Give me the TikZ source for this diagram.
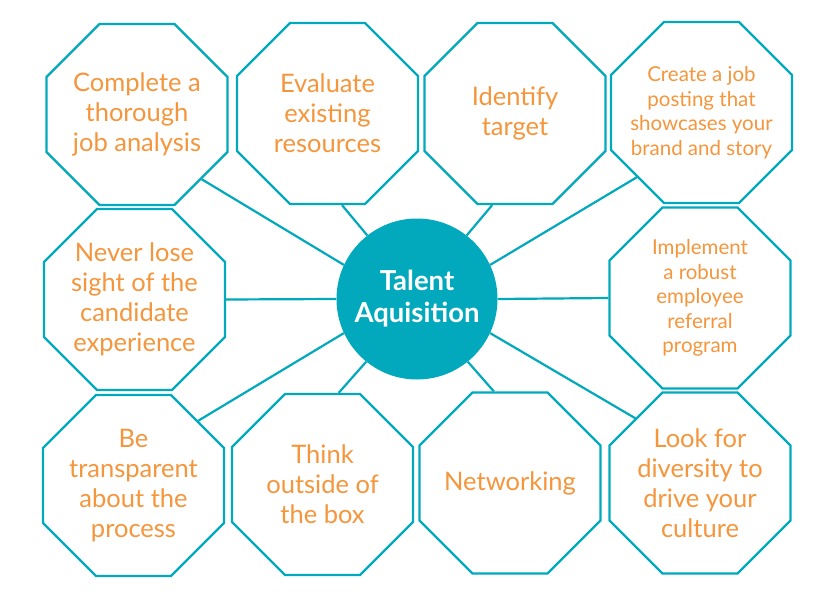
\documentclass[tikz,border=0pt]{standalone}
\usepackage{fontspec}
\setmainfont{Lato}
\usepackage{xcolor}
\usetikzlibrary{shapes.geometric}
\definecolor{ringteal}{HTML}{02A9BD}
\definecolor{stepgold}{HTML}{F5963C}
\tikzset{
  octa/.style   = {regular polygon, regular polygon sides=8, minimum size=196pt, inner sep=-20pt,
                   draw=ringteal, fill=white, line width=2.2pt, align=center, text=stepgold,
                   font=\fontsize{25.5}{30}\selectfont},
  octs/.style   = {octa, font=\fontsize{20.5}{24.5}\selectfont},
  hub/.style    = {circle, fill=ringteal, minimum size=161pt, inner sep=0pt, align=center,
                   text=white, font=\bfseries\fontsize{27.5}{32}\selectfont},
  link/.style   = {draw=ringteal, line width=2.2pt},
}

\begin{document}
\begin{tikzpicture}[x=1pt, y=-1pt]
  \useasboundingbox (0,0) rectangle (836,611);
  \node[hub] (talent) at (417,299) {Talent\\Aquisition};
  % top row
  \node[octa] (cjob)  at (137,114.5)   {Complete a\\thorough\\job analysis};
  \node[octa] (eval)  at (327.5,113.5) {Evaluate\\existing\\resources};
  \node[octa] (ident) at (515,113.5)   {Identify\\target};
  \node[octs] (post)  at (701.5,112.5) {Create a job\\posting that\\showcases your\\brand and story};
  % middle row
  \node[octa] (never) at (134.5,299.5) {Never lose\\sight of the\\candidate\\experience};
  \node[octs] (refer) at (700,298)     {Implement\\a robust\\employee\\referral\\program};
  % bottom row
  \node[octa] (transp) at (133.5,485.5) {Be\\transparent\\about the\\process};
  \node[octa] (think)  at (322.5,484.5) {Think\\outside of\\the box};
  \node[octa] (netw)   at (510,483)     {Networking};
  \node[octa] (divers) at (700,483)     {Look for\\diversity to\\drive your\\culture};
  \draw[link] (talent.155) -- (cjob.-45);
  \draw[link] (talent.128) -- (eval.-81);
  \draw[link] (talent.52)  -- (ident.-104);
  \draw[link] (talent.25)  -- (post.-135);
  \draw[link] (talent.180) -- (never.0);
  \draw[link] (talent.0)   -- (refer.180);
  \draw[link] (talent.205) -- (transp.45);
  \draw[link] (talent.231) -- (think.80);
  \draw[link] (talent.309) -- (netw.100);
  \draw[link] (talent.335) -- (divers.135);
\end{tikzpicture}
\end{document}
